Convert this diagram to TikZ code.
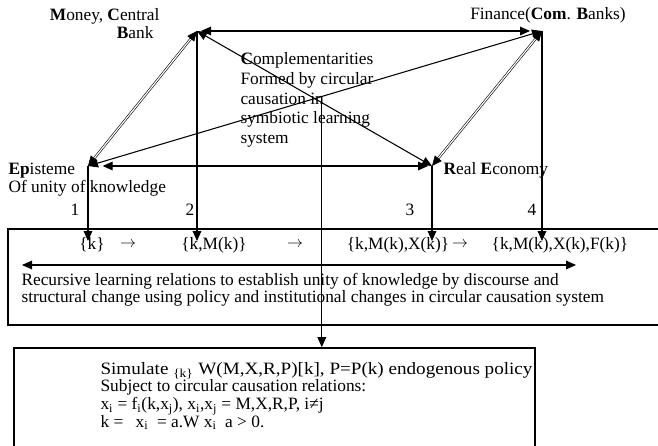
\documentclass[tikz,border=0pt]{standalone}
\usepackage{graphicx}
\usepackage{fontspec}
\setmainfont{Liberation Serif}
\usetikzlibrary{arrows.meta,calc}

\begin{document}
\begin{tikzpicture}[x=0.75pt,y=-0.75pt,line width=0.8pt,
        >={Triangle[length=7.5pt,width=6.5pt]},
        lbl/.style={inner sep=0pt,font=\fontsize{13pt}{13.5pt}\selectfont},
        dbl/.style={double,double distance=0.9pt,line width=0.45pt}]
    \useasboundingbox (0,0) rectangle (658,446);
    % the four corners
    \coordinate (E) at (88,166);
    \coordinate (M) at (197,31);
    \coordinate (F) at (542,31);
    \coordinate (R) at (432,166);
    \coordinate (ctr) at ($(E)!0.515!(F)$);
    \coordinate (tips) at (0,241);

    \node[lbl,align=right,anchor=east] (money) at (160,24)
        {\textbf{M}oney, \textbf{C}entral\\\textbf{B}ank\hspace*{4.5pt}};
    \node[lbl] (finance) at (548,15) {Finance(\textbf{Com}. \textbf{B}anks)};
    \node[lbl,align=left,anchor=west] (epis) at (8,180)
        {\textbf{Ep}isteme\\Of unity of knowledge};
    \node[lbl,anchor=west] (real) at (443,170) {\textbf{R}eal \textbf{E}conomy};
    \node[lbl,align=left,anchor=west,font=\fontsize{13pt}{14.8pt}\selectfont] (compl) at (240,100)
        {\textbf{C}omplementarities\\Formed by circular\\causation in\\symbiotic learning\\system};

    \draw[dbl,<->] (E) -- (M);
    \draw[dbl,<->] (R) -- (F);
    \draw[<->,shorten <=3pt,shorten >=9pt] (M) -- (F);
    \draw[<->] (E) -- (F);
    \draw[<->] (M) -- (R);
    \draw[<->,shorten <=3pt,shorten >=11pt] (R) -- (E);

    \node[lbl] (n1) at (75,210) {1};
    \node[lbl] (n2) at (190,210) {2};
    \node[lbl] (n3) at (410,210) {3};
    \node[lbl] (n4) at (532,210) {4};

    % learning box
    \node[draw,minimum width=496.5pt,minimum height=72pt] (learn) at (339,277) {};
    \node[lbl] (s1) at (92,245) {\{k\}};
    \node[lbl] (a1) at (128,245) {$\rightarrow$};
    \node[lbl] (s2) at (214,245) {\{k,M(k)\}};
    \node[lbl] (a2) at (295,245) {$\rightarrow$};
    \node[lbl] (s3) at (398,245) {\{k,M(k),X(k)\}};
    \node[lbl] (a3) at (460,245) {$\rightarrow$};
    \node[lbl] (s4) at (560,245) {\{k,M(k),X(k),F(k)\}};
    \coordinate (lft) at (22,265);
    \coordinate (rgt) at (576,265);
    \draw[<->] (lft) -- (rgt);
    \node[lbl,align=left,anchor=west,font=\fontsize{13pt}{12.75pt}\selectfont] (recur) at (21,290)
        {Recursive learning relations to establish unity of knowledge by discourse and\\
         structural change using policy and institutional changes in circular causation system};

    \draw[->] (E) -- (E |- tips);
    \draw[->] (M) -- (M |- tips);
    \draw[->] (R) -- (R |- tips);
    \draw[->] (F) -- (F |- tips);

    % simulation box
    \node[draw,line width=1.2pt,minimum width=390.75pt,minimum height=90pt] (sim) at (274.5,408) {};
    \draw[->] (ctr) -- (ctr |- sim.north);
    \node[lbl,align=left,anchor=west,font=\fontsize{13pt}{13.3pt}\selectfont] (simtext) at (100,396)
        {\resizebox{324pt}{\height}{Simulate \textsubscript{\{k\}} W(M,X,R,P)[k], P=P(k) endogenous policy}\\
         Subject to circular causation relations:\\
         x\textsubscript{i} = f\textsubscript{i}(k,x\textsubscript{j}), x\textsubscript{i},x\textsubscript{j} = M,X,R,P, i≠j\\
         k = \hspace{6pt}x\textsubscript{i} \ = a.W x\textsubscript{i} \ a > 0.};
\end{tikzpicture}
\end{document}
